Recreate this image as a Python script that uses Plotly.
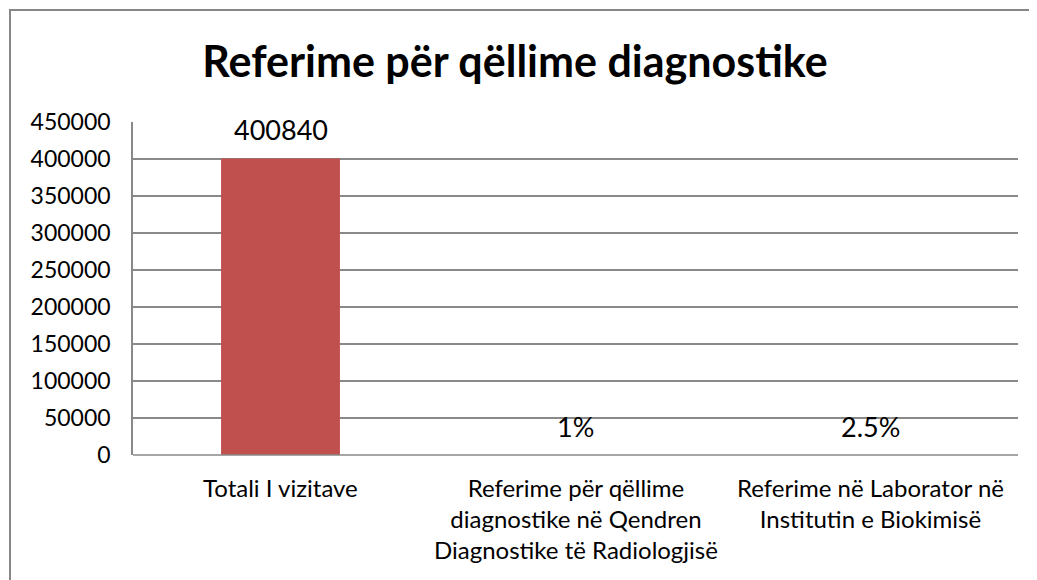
import plotly.graph_objects as go

categories = [
    "Totali I vizitave",
    "Referime për qëllime<br>diagnostike në Qendren<br>Diagnostike të Radiologjisë",
    "Referime në Laborator në<br>Institutin e Biokimisë",
]
values = [400840, 0.01, 0.025]
value_labels = ["400840", "1%", "2.5%"]
y_ticks = [0, 50000, 100000, 150000, 200000, 250000, 300000, 350000, 400000, 450000]

FONT = "Lato, Carlito, Calibri, sans-serif"
GRID = "#898989"

# page body has an 8px default margin
OFF = 8
W, H = 1037 - OFF, 580 - OFF
L, T = 133 - OFF, 122 - OFF
R = W - (1018 - OFF)
B = H - (455 - OFF)
pw, ph = W - L - R, H - T - B

fig = go.Figure()
fig.add_trace(go.Bar(
    x=list(range(len(categories))), y=values,
    marker=dict(color="#C0504D", line=dict(width=0)),
    width=0.403, hoverinfo="skip",
))

annotations = []
for i, (v, lab) in enumerate(zip(values, value_labels)):
    annotations.append(dict(
        x=i, y=v, xref="x", yref="y", text=lab, showarrow=False,
        yanchor="middle", xanchor="center", yshift=29,
        font=dict(family=FONT, size=27, color="#000000"),
    ))
    annotations.append(dict(
        x=i, y=0, xref="x", yref="y", text=categories[i], showarrow=False,
        yanchor="top", xanchor="center", yshift=-16,
        align="center",
        font=dict(family=FONT, size=24, color="#000000"),
    ))

fig.update_layout(
    width=W, height=H,
    margin=dict(l=L, r=R, t=T, b=B),
    paper_bgcolor="white", plot_bgcolor="white",
    showlegend=False,
    title=dict(
        text="<b>Referime për qëllime diagnostike</b>",
        x=(515 - OFF) / W, xanchor="center", y=(H - (62 - OFF)) / H, yanchor="middle",
        font=dict(family=FONT, size=43, color="#000000"),
    ),
    xaxis=dict(
        range=[-0.5, 2.5], showticklabels=False, showgrid=False,
        zeroline=False, showline=False, ticks="", fixedrange=True,
    ),
    yaxis=dict(
        range=[0, 450000], tickvals=y_ticks, ticktext=[str(t) for t in y_ticks],
        showgrid=True, gridcolor=GRID, gridwidth=1.5,
        zeroline=False, showline=True, linecolor=GRID, linewidth=1.5,
        ticks="", ticklen=0, ticklabelstandoff=16,
        tickfont=dict(family=FONT, size=23, color="#000000"),
        fixedrange=True,
    ),
    annotations=annotations,
    shapes=[
        dict(type="line", xref="paper", yref="paper", x0=0, x1=1, y0=0, y1=0,
             line=dict(color=GRID, width=1.5)),
        dict(type="rect", xref="paper", yref="paper",
             x0=(10 - OFF - L) / pw, x1=(W + 20 - L) / pw,
             y0=-(B + 20) / ph,
             y1=(H - B - (10 - OFF)) / ph,
             line=dict(color="#878787", width=2), fillcolor="rgba(0,0,0,0)", layer="above"),
    ],
)

fig.write_html("out.html")
